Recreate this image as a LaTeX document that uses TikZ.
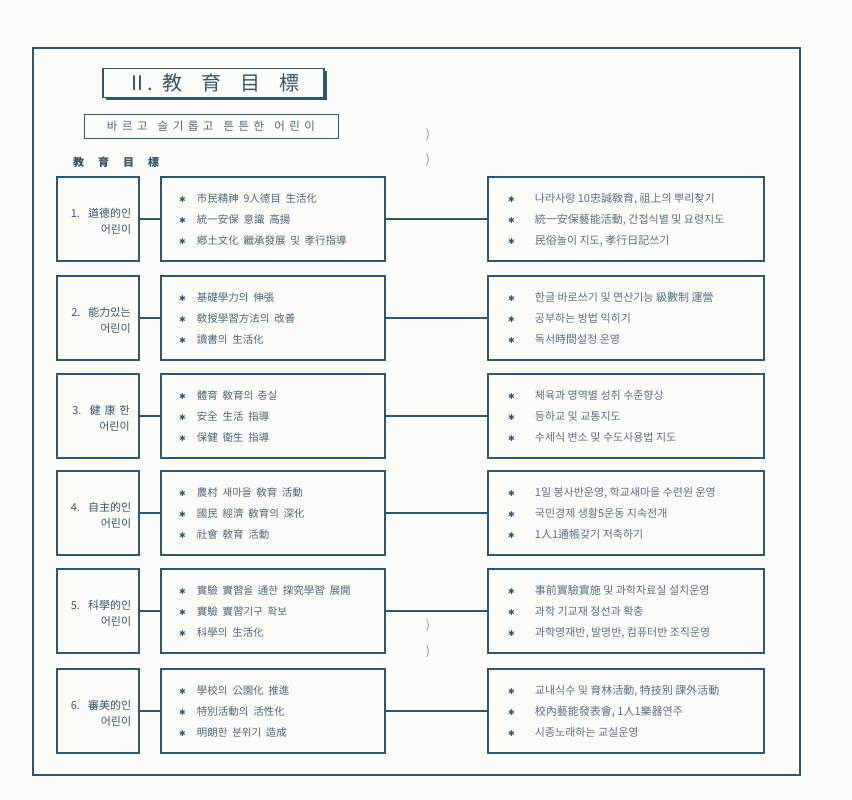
\documentclass[tikz,border=0pt]{standalone}
\usepackage{fontspec}
\setmainfont{Noto Sans CJK KR}
\newfontfamily\symfont{DejaVu Sans}
\usetikzlibrary{shadows}
\definecolor{paper}{HTML}{FCFDF9}
\definecolor{ink}{HTML}{34566C}
\definecolor{labelc}{HTML}{36536A}
\definecolor{midc}{HTML}{4E6474}
\definecolor{rightc}{HTML}{5A6F80}
\definecolor{faint}{HTML}{8E918A}
\newcommand\myast{\textcolor{ink}{\symfont\fontsize{8}{10}\selectfont ✱}}
\newcommand\miditems[3]{\begin{tabular}{@{}c@{\hspace{11pt}}l@{}}\myast&#1\\[7pt]\myast&#2\\[7pt]\myast&#3\end{tabular}}
\newcommand\rightitems[3]{\begin{tabular}{@{}c@{\hspace{20pt}}l@{}}\myast&#1\\[7pt]\myast&#2\\[7pt]\myast&#3\end{tabular}}
\tikzset{
  outerframe/.style={draw=ink, line width=1.2pt, minimum width=767pt, minimum height=727pt, inner sep=0pt},
  titlebox/.style={draw=ink, line width=1.2pt, fill=paper, minimum width=221pt, minimum height=29pt, inner sep=0pt,
    drop shadow={shadow xshift=2.5pt, shadow yshift=-3pt, fill=ink, opacity=1},
    font=\fontsize{20}{22}\selectfont, text=labelc},
  subbox/.style={draw=ink, line width=1pt, minimum width=254pt, minimum height=24pt, inner sep=0pt,
    font=\fontsize{11.5}{13}\selectfont, text=midc},
  headtext/.style={font=\fontsize{11}{13}\selectfont\bfseries, text=labelc, inner sep=0pt},
  leftbox/.style={draw=ink, line width=1.3pt, minimum width=82pt, minimum height=84pt, inner sep=0pt},
  labeltext/.style={align=right, inner sep=0pt, font=\fontsize{11}{16}\selectfont, text=labelc},
  midbox/.style={draw=ink, line width=1.3pt, minimum width=224pt, minimum height=84pt, inner sep=0pt},
  rightbox/.style={draw=ink, line width=1.3pt, minimum width=276pt, minimum height=84pt, inner sep=0pt},
  midtext/.style={anchor=west, inner sep=0pt, font=\fontsize{10.5}{14}\selectfont, text=midc},
  righttext/.style={anchor=west, inner sep=0pt, font=\fontsize{11}{14}\selectfont, text=rightc},
  conn/.style={draw=ink, line width=1.3pt},
  paren/.style={inner sep=0pt, font=\fontsize{12}{14}\selectfont, text=faint}
}
\newcommand\goalrow[9]{%
  \node[leftbox] (L#1) at (98,#2) {};
  \node[labeltext] (LT#1) at (101,{#2+2}) {#3};
  \node[midbox] (M#1) at (273,#2) {};
  \node[rightbox] (R#1) at (626,#2) {};
  \node[midtext] (MT#1) at (179,{#2+2}) {\miditems{#4}{#5}{#6}};
  \node[righttext] (RT#1) at (508,{#2+2}) {\rightitems{#7}{#8}{#9}};
  \draw[conn] (L#1.east) -- (M#1.west);
  \draw[conn] (M#1.east) -- (R#1.west);
}
\begin{document}
\begin{tikzpicture}[x=1pt,y=-1pt]
\useasboundingbox[fill=paper] (0,0) rectangle (852,800);
\node[outerframe] (frame) at (416.5,411.5) {};
\node[titlebox] (title) at (213.5,83) {Ⅱ.\hspace{9pt}教\hspace{19pt}育\hspace{19pt}目\hspace{19pt}標};
\node[subbox] (sub) at (211,126) {바\hspace{4.5pt}르\hspace{4.5pt}고\hspace{10pt}슬\hspace{4.5pt}기\hspace{4.5pt}롭\hspace{4.5pt}고\hspace{10pt}튼\hspace{4.5pt}튼\hspace{4.5pt}한\hspace{10pt}어\hspace{4.5pt}린\hspace{4.5pt}이};
\node[headtext, anchor=west] (head) at (73,162) {教\hspace{14pt}育\hspace{14pt}目\hspace{14pt}標};
\node[paren] (p1) at (428,135) {)};
\node[paren] (p2) at (428,160) {)};
\node[paren] (p3) at (428,626) {)};
\node[paren] (p4) at (428,652) {)};
\goalrow{1}{219}{1.\hspace{8pt}道德的인\\어린이}
  {市民精神\ \ 9人德目\ \ 生活化}{統一安保\ \ 意識\ \ 高揚}{鄕土文化\ \ 繼承發展\ \ 및\ \ 孝行指導}
  {나라사랑 10忠誠敎育,\ 祖上의 뿌리찾기}{統一安保藝能活動,\ 간첩식별 및 요령지도}{民俗놀이 지도,\ 孝行日記쓰기}
\goalrow{2}{318}{2.\hspace{8pt}能力있는\\어린이}
  {基礎學力의\ \ 伸張}{敎授學習方法의\ \ 改善}{讀書의\ \ 生活化}
  {한글 바로쓰기 및 연산기능 級數制 運營}{공부하는 방법 익히기}{독서時間설정 운영}
\goalrow{3}{416}{3.\hspace{8pt}健\hspace{4pt}康\hspace{4pt}한\\어린이}
  {體育\ \ 敎育의\ \ 충실}{安全\ \ 生活\ \ 指導}{保健\ \ 衛生\ \ 指導}
  {체육과 영역별 성취 수준향상}{등하교 및 교통지도}{수세식 변소 및 수도사용법 지도}
\goalrow{4}{513}{4.\hspace{8pt}自主的인\\어린이}
  {農村\ \ 새마을\ \ 敎育\ \ 活動}{國民\ \ 經濟\ \ 敎育의\ \ 深化}{社會\ \ 敎育\ \ 活動}
  {1일 봉사반운영,\ 학교새마을 수련원 운영}{국민경제 생활5운동 지속전개}{1人1通帳갖기 저축하기}
\goalrow{5}{611}{5.\hspace{8pt}科學的인\\어린이}
  {實驗\ \ 實習을\ \ 通한\ \ 探究學習\ \ 展開}{實驗\ \ 實習기구\ \ 확보}{科學의\ \ 生活化}
  {事前實驗實施 및 과학자료실 설치운영}{과학 기교재 정선과 확충}{과학영재반,\ 발명반,\ 컴퓨터반 조직운영}
\goalrow{6}{711}{6.\hspace{8pt}審美的인\\어린이}
  {學校의\ \ 公園化\ \ 推進}{特別活動의\ \ 活性化}{明朗한\ \ 분위기\ \ 造成}
  {교내식수 및 育林活動,\ 特技別 課外活動}{校內藝能發表會,\ 1人1樂器연주}{시종노래하는 교실운영}
\end{tikzpicture}
\end{document}
